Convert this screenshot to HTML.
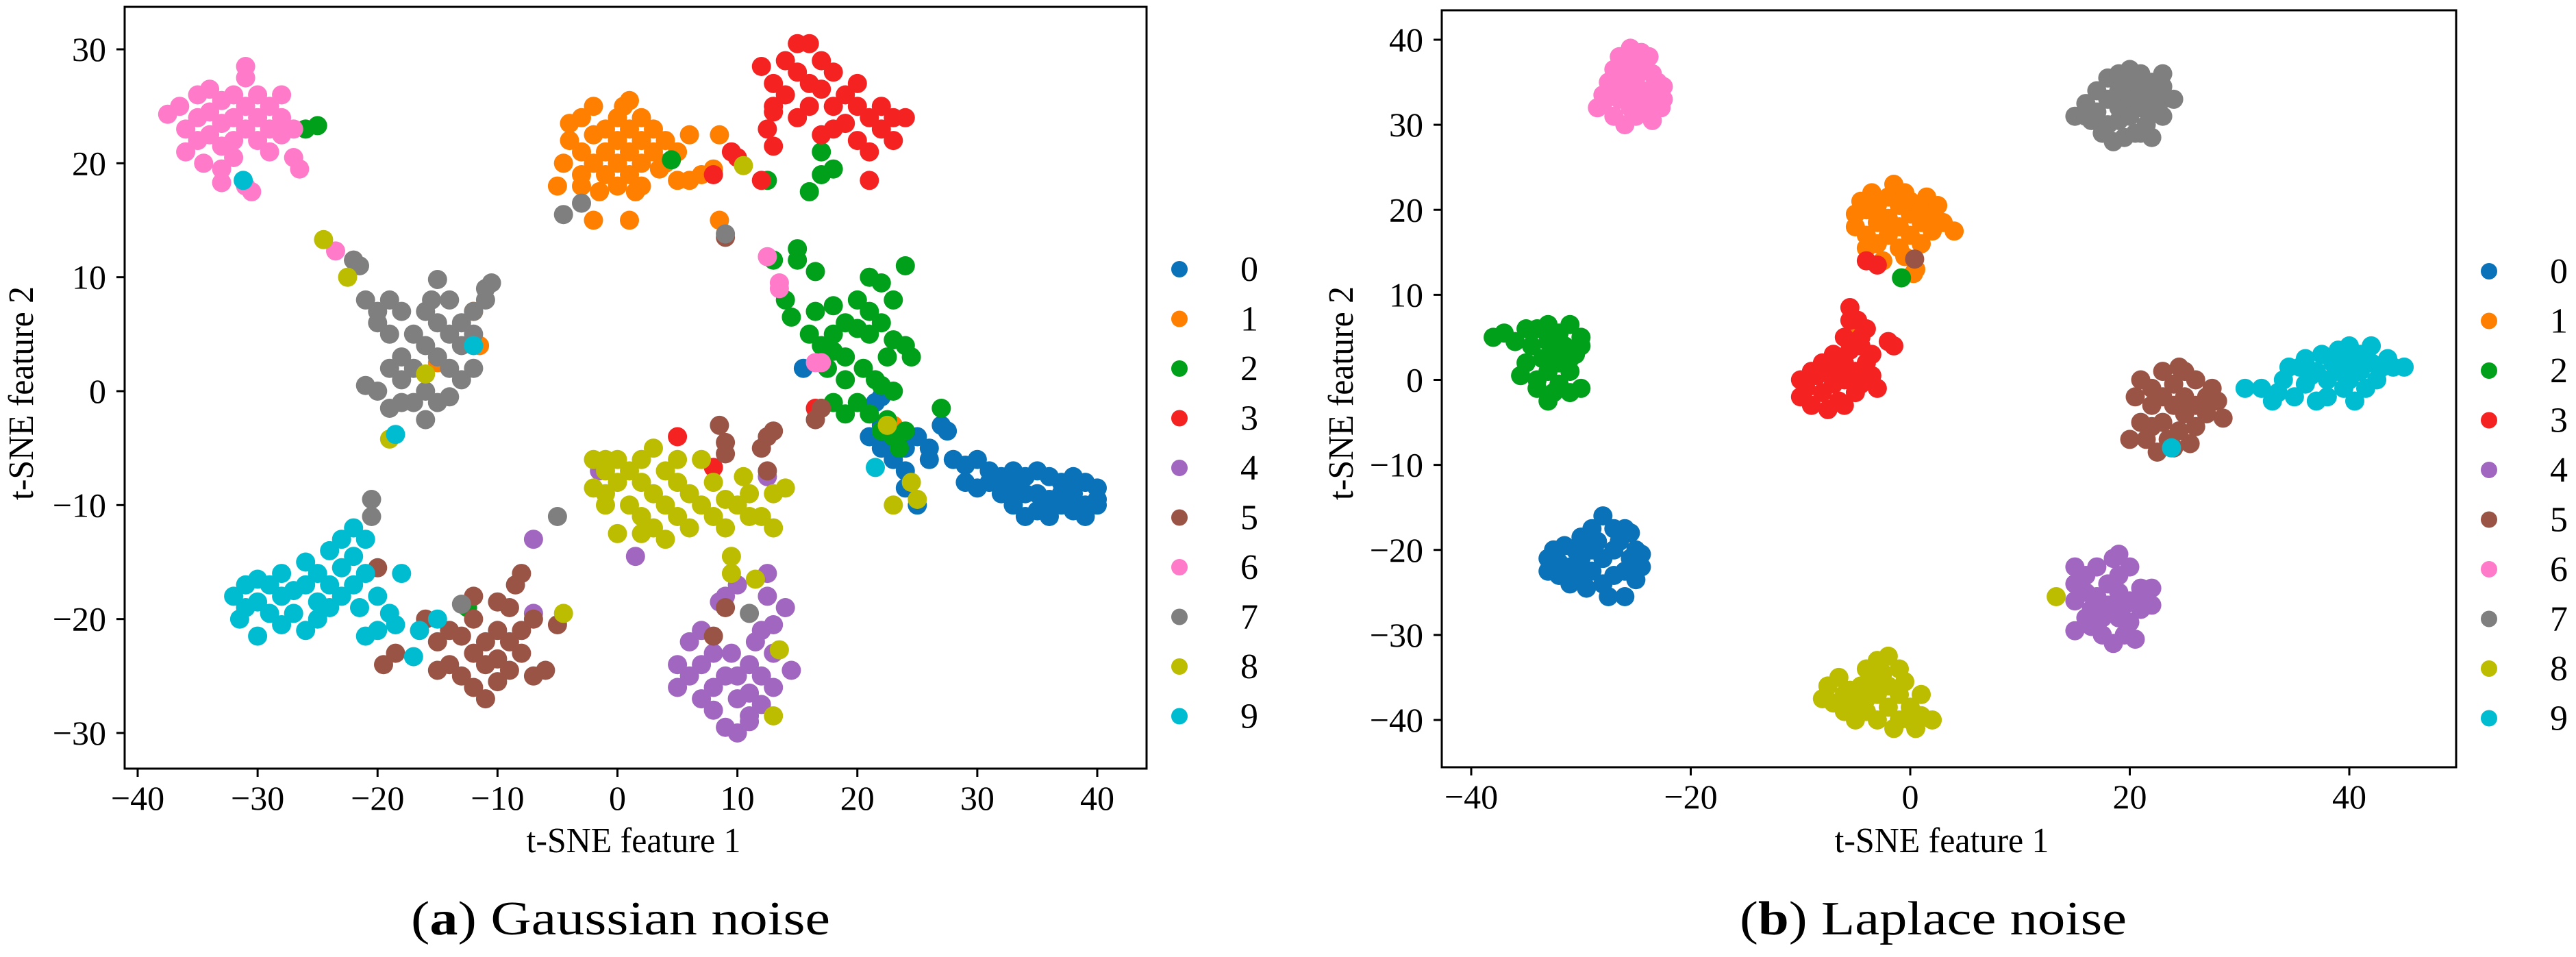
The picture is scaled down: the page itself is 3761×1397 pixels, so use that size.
<!DOCTYPE html>
<html><head><meta charset="utf-8"><style>
html,body{margin:0;padding:0;background:#fff;}
svg{display:block;font-family:"Liberation Serif",serif;}
</style></head><body>
<svg id="fig" width="3761" height="1397" viewBox="0 0 3761 1397" xmlns="http://www.w3.org/2000/svg"></svg>
<script>
const classLabels=["0","1","2","3","4","5","6","7","8","9"];
const classColors=["#0a72b8","#ff7f00","#00a01a","#f52222","#a066c0","#9a5446","#ff7ac8","#7f7f7f","#bcbc00","#00bcd0"];
const gaussXTicks=[-40,-30,-20,-10,0,10,20,30,40];
const gaussYTicks=[-30,-20,-10,0,10,20,30];
const lapXTicks=[-40,-20,0,20,40];
const lapYTicks=[-40,-30,-20,-10,0,10,20,30,40];

const g0=[[28,-6],[29,-6.5],[30,-6],[31,-7],[32,-7.5],[33,-7],[34,-7.5],[35,-7],[36,-7.5],[37,-8],[38,-7.5],[39,-8],[40,-8.5],[40,-9.5],[39,-10],[38,-10.5],[37,-10],[36,-9.5],[35,-9],[34,-9],[33,-8.5],[32,-9],[31,-8],[30,-8.5],[29,-8],[35,-10.5],[36,-11],[33,-10],[34,-11],[37,-9],[38,-9],[39,-11],[40,-10],[27,-3],[26,-5],[25,-4],[24,-5],[23,-6],[22,-3],[21,-4],[22,-5],[24,-7],[24,-8.5],[25,-10],[23,-3.5],[27.5,-3.5],[26,-6],[15.5,2],[21.5,-1],[22,-0.5]];
const g1=[[-5,18],[-4.5,20],[-4,22],[-4,23.5],[-3,21],[-3,19],[-2,25],[-2,22.5],[-2,20],[-1,23],[-1,21],[-1,19],[0,22],[0,20],[0,18],[0,24],[1,25.5],[1,23],[1,21],[1,19],[2,24],[2,22],[2,20],[2,18],[3,23],[3,21],[3.5,19.5],[4,22],[4,20],[-3,18],[-1.5,17.5],[1.5,17.5],[5,21],[5,18.5],[6,22.5],[6,18.5],[7,19],[8,19.5],[-3,24],[0.5,25],[8.5,15],[-2,15],[1,15],[8.5,22.5],[-12,7],[-11.5,4],[-15,2.5],[23,-3]];
const g2=[[13,11.5],[15,12.5],[15,11.5],[16.5,10.5],[14,8],[14.5,6.5],[16,5],[16.5,7],[17,4],[17.5,2],[18,7.5],[18,5],[19,6],[19,3],[20,8],[20,5.5],[20.5,2],[21,10],[21,7],[21,5],[21.5,1],[22,9.5],[22,6],[22.5,3],[23,8],[23,4.5],[24,11],[24,4],[24.5,3],[23,0],[20,-1],[19,-2],[18,-1],[21,-2],[22,0.5],[19,1],[18,3.5],[22.5,-2.5],[24,-3.5],[23.5,-5],[16,17.5],[17,19],[17,21],[18,19.5],[12.5,18.5],[4.5,20.3],[-25,23.3],[-26,23],[-12.5,-19],[17,-1.5],[27,-1.5],[22,-3.5],[23,-4]];
const g3=[[12,28.5],[13,27],[13,25],[14,29],[14,26],[15,30.5],[15,28],[15,24],[16,30.5],[16,27],[16,25],[17,29],[17,26.5],[17,22.5],[18,28],[18,25],[18,23],[19,26],[19,23.5],[20,25],[20,22],[21,24],[21,21],[22,23],[22,25],[23,24],[23,22],[24,24],[20,27],[13,21.5],[12.5,23],[21,18.5],[12,18.5],[10,20.5],[9.5,21],[8,19],[5,-4],[8,-6.7],[16.5,-1.5],[13,24.5]];
const g4=[[5,-24],[5,-26],[6,-22],[6,-25],[7,-21],[7,-27],[7,-24],[8,-23],[8,-26],[8,-28],[9,-25],[9,-29.5],[9.5,-23],[10,-27],[10,-25],[10,-30],[11,-24],[11,-26.5],[11,-28.5],[11.5,-22],[12,-25],[12,-27.5],[12,-21],[12.5,-16],[12.5,-18],[13,-23],[13,-26],[14,-19],[14.5,-24.5],[13,-20.5],[10,-17],[9,-18],[8.5,-18.5],[11,-29],[-7,-13],[-7,-19.5],[1.5,-14.5],[-1.5,-7],[12.5,-7.5]];
const g5=[[-16,-20],[-15,-22],[-14,-24],[-13,-25],[-13,-21.5],[-12,-23],[-12,-26],[-12,-20],[-11,-22],[-11,-24],[-11,-27],[-10,-21],[-10,-23.5],[-10,-25.5],[-9,-19],[-9,-22],[-9,-24.5],[-8.5,-17],[-8,-16],[-8,-21],[-8,-23],[-7,-20],[-7,-25],[-6,-24.5],[-5,-20.5],[-14,-21],[-15,-24.5],[-18.5,-23],[-19.5,-24],[-12,-18],[-10,-18.5],[-20,-15.5],[8.5,-3],[9,-4.5],[9,-5.5],[12,-5],[12.5,-4],[13,-3.5],[12.5,-7],[9,-19],[8,-21.5],[9,13.5],[16.5,-2.5],[17,-1.5],[-22,11.5]];
const g6=[[-37.5,24.3],[-36.5,25],[-36,23],[-36,21],[-35,26],[-35,24],[-35,22],[-34.5,20],[-34,26.5],[-34,24.5],[-34,22.5],[-33,25.5],[-33,23.5],[-33,21.5],[-33,19.5],[-32,26],[-32,24],[-32,22],[-32,20.5],[-31,28.5],[-31,27.5],[-31,25],[-31,23],[-31,18],[-30,26],[-30,24],[-30,22],[-30.5,17.5],[-29,25],[-29,23],[-29,21],[-28,24],[-28,22.5],[-27,20.5],[-27,23],[-26.5,19.5],[-28,26],[-33,18.3],[-23.5,12.3],[13.5,9.5],[13.5,9],[16.5,2.5],[17,2.5],[12.5,11.8]];
const g7=[[-22,11.5],[-21.5,11],[-21,8],[-20,7],[-20,6],[-19,5],[-19,8],[-18,7],[-18,3],[-18,1],[-17,5],[-17,2],[-17,-1],[-16,7],[-16,4],[-16,0],[-16,-2.5],[-15,6],[-15,3],[-15,-1],[-14,5],[-14,2],[-14,8],[-13,6],[-13,4],[-13,1],[-12,7],[-12,5],[-12,2],[-11,8],[-11,9],[-10.5,9.5],[-21,0.5],[-20,0],[-19,-1.5],[-18,-1],[-19,2],[-14,-0.5],[-15.5,8],[-15,9.8],[-20.5,-9.5],[-20.5,-11],[-5,-11],[-3,16.5],[-4.5,15.5],[-13,-18.7],[11,-19.5],[9,13.8]];
const g8=[[-2,-6],[-1,-7],[-1,-6],[0,-6],[-2,-8.5],[-1,-9],[0,-8],[1,-10],[1,-7],[2,-6],[2,-8],[2,-11],[3,-9],[3,-12],[3,-5],[4,-7],[4,-10],[4,-13],[5,-8],[5,-11],[5,-6],[6,-9],[6,-12],[7,-10],[7,-6],[8,-8],[8,-11],[9,-9.5],[9,-12],[10,-10],[10.5,-7.5],[11,-9],[11,-11],[12,-11],[13,-9],[13,-12],[14,-8.5],[0,-12.5],[2,-12.5],[-1,-10],[9.5,-14.5],[9.5,-16],[11.5,-16.5],[-24.5,13.3],[-22.5,10],[-19,-4.2],[-16,1.5],[-4.5,-19.5],[10.5,19.8],[22.5,-3],[23,-10],[24.5,-8],[25,-9.5],[13.5,-22.7],[13,-28.5]];
const g9=[[-32,-18],[-31.5,-20],[-31,-17],[-31,-19],[-30,-16.5],[-30,-18.5],[-30,-21.5],[-29,-17],[-29,-19.5],[-28,-16],[-28,-18],[-28,-20.5],[-27,-17.5],[-27,-19.5],[-26,-15],[-26,-17],[-26,-21],[-25,-16],[-25,-18.5],[-25,-20],[-24,-14],[-24,-17],[-24,-19],[-23,-13],[-23,-15.5],[-23,-18],[-22,-12],[-22,-14.5],[-22,-17],[-21,-13],[-21,-16],[-21.5,-19],[-20,-18],[-19,-19.5],[-20,-21],[-21,-21.5],[-18,-16],[-18.5,-20.5],[-16.5,-21],[-15,-20],[-17,-23.3],[-31.2,18.5],[-18.5,-3.8],[-12,4],[21.5,-6.7]];

const l0=[[-33,-21],[-33,-22.5],[-32.5,-20],[-32,-23],[-32,-21.5],[-31.5,-19.5],[-31,-24],[-31,-22],[-30.5,-20],[-30,-18.5],[-30,-23],[-30,-21],[-29.5,-24.5],[-29,-17.5],[-29,-20],[-29,-22.5],[-28.5,-19],[-28,-16],[-28,-21],[-28,-24],[-27.5,-25.5],[-27,-17.5],[-27,-20],[-27,-23],[-26.5,-19],[-26,-22.5],[-26,-25.5],[-25.5,-18],[-25.5,-21],[-25,-23.5],[-25,-20],[-24.5,-22],[-26,-17.5],[-24.5,-20.5]];
const l1=[[-5,18],[-5,19.5],[-4.5,21],[-4,17],[-4,15.5],[-4,20],[-3.5,22],[-3,18.5],[-3,16],[-3,20.5],[-2.5,14],[-2,21.5],[-2,19],[-2,17],[-1.5,23],[-1,20.5],[-1,18],[-1,15.5],[-0.5,22],[0,19.5],[0,17],[0,21],[0.5,13],[1,18.5],[1,20],[1,16],[1.5,21.5],[2,19],[2,17.5],[3,18.5],[4,17.5],[2.5,20.5],[-0.5,14.5],[0.3,12.5],[-5,5.5]];
const l2=[[-38,5],[-37,5.5],[-36,4.5],[-35,6],[-35,2],[-34.5,4],[-34,0],[-34,-1],[-33.5,2.5],[-33,6.5],[-33,4.5],[-33,1],[-33,-2.5],[-32.5,3],[-32,5.5],[-32,-0.5],[-32,2],[-31.5,4],[-31,6.5],[-31,1],[-31,-1.5],[-30.5,3],[-30,5],[-30,-1],[-30,4],[-31,2.5],[-34,6],[-32.5,-1.5],[-35.5,0.5],[-0.8,12]];
const l3=[[-10,0],[-10,-2],[-9.5,-1],[-9,1],[-9,-3],[-8.5,0.5],[-8,-1.5],[-8,2],[-7.5,-3.5],[-7,1],[-7,-0.5],[-7,3],[-6.5,-2.5],[-6,5],[-6,2],[-6,0],[-6,-3],[-5.5,7],[-5.5,3.5],[-5,1],[-5,-1.5],[-5.5,8.5],[-4.5,4],[-4.5,-0.5],[-4,6],[-4,2],[-3.5,3],[-3,-1],[-2,4.5],[-1.5,4],[-4.5,5],[-3.5,0.5],[-4.8,7],[-4,14],[-3,13.5]];
const l4=[[15,-22],[15,-24],[15,-26],[15,-29.5],[16,-23],[16,-25],[16.5,-27],[16.5,-29],[17,-22],[17,-25.5],[17.5,-30],[17.5,-28],[18,-24],[18,-26.5],[18.5,-31],[18.5,-21],[19,-20.5],[19,-23],[19,-25],[19,-28],[19.5,-30],[20,-22],[20,-26],[20,-28.5],[20.5,-30.5],[21,-24.5],[21,-27],[22,-24.5],[22,-26.5],[21.5,-25.5],[16,-28],[19.5,-26.5]];
const l5=[[20,-7],[20.5,-2],[21,-5],[21,0],[21.5,-7],[22,-3],[22,-1],[22.5,-8.5],[23,-5],[23,-2],[23,1],[23.5,-7],[24,-3],[24,-0.5],[24.5,1.5],[24.5,-6],[25,-4],[25,-2],[25.5,-7.5],[26,-3],[26,-5.5],[26,0],[27,-2],[27,-4],[27.5,-1],[28,-2.5],[28.5,-4.5],[22,-5.5],[24,-8],[25,1],[0.4,14.2]];
const l6=[[-28.5,32],[-28,33.5],[-27.5,35],[-27,36.5],[-27,31],[-26.5,33],[-26,34.5],[-26,30],[-26,37.5],[-25.5,32],[-25,35.5],[-25,33.5],[-25,31],[-24.5,38.5],[-24.5,37],[-24,34],[-24,32.5],[-23.5,36],[-23.5,30.5],[-23,35],[-23,33.5],[-22.5,34.5],[-22.5,33],[-28,32.5],[-26.5,38],[-25.5,39],[-24,31.5],[-27.5,33.8],[-26,36],[-25,37.5],[-22.7,32],[-23.8,38]];
const l7=[[15,31],[16,32.5],[16.5,30.5],[17,34],[17,31.5],[17.5,29],[18,35.5],[18,33],[18,30],[18.5,28],[19,36],[19,34],[19,32],[19,30.5],[19.5,28.5],[20,35],[20,33],[20,31],[20.5,29],[21,36],[21,34],[21,32],[21.5,30],[22,35],[22,33],[22,28.5],[23,36],[23,34.5],[23,33],[23,31],[22,31.5],[21,29],[20,36.5],[16,31],[24,33]];
const l8=[[-8,-37.5],[-7.5,-36],[-7,-38],[-6.5,-35],[-6,-37],[-6,-39],[-5.5,-36.5],[-5,-38],[-5,-40],[-4.5,-36],[-4,-34],[-4,-37.5],[-4,-39],[-3.5,-35.5],[-3,-33],[-3,-37],[-3,-40],[-2.5,-34.5],[-2,-32.5],[-2,-36],[-2,-38.5],[-1.5,-41],[-1,-34],[-1,-37],[-1,-40],[-0.5,-35.5],[0,-38.5],[0,-40],[1,-39.5],[1,-37],[2,-40],[0.5,-41],[13.3,-25.5]];
const l9=[[30.5,-1],[32,-1],[33,-2.5],[33.5,-1.5],[34,0],[35,-2],[35.5,1.5],[36,-0.5],[36,2.5],[37,1],[37,-2.5],[37.5,3],[38,0],[38,-2],[38.5,2],[39,3.5],[39,1],[39.5,-1],[40,4],[40,2],[40,0],[40.5,-2.5],[41,3],[41,1],[41.5,-1],[42,4],[42,2],[42.5,0],[43,1.5],[43.5,2.5],[44,1.5],[45,1.5],[34.5,1.5],[36.5,0.5],[23.8,-8]];

const gaussSeries=[g0,g1,g2,g3,g4,g5,g6,g7,g8,g9];
const lapSeries=[l0,l1,l2,l3,l4,l5,l6,l7,l8,l9];

const NS="http://www.w3.org/2000/svg";
const svg=document.getElementById('fig');
function mk(tag,attrs,parent){const e=document.createElementNS(NS,tag);for(const k in attrs)e.setAttribute(k,attrs[k]);(parent||svg).appendChild(e);return e;}

function panel(cfg){
  const g=mk('g',{});
  
  
  const sx=v=>cfg.x0+(v-cfg.xa)*(cfg.x1-cfg.x0)/(cfg.xb-cfg.xa);
  const sy=v=>cfg.y0+(v-cfg.ya)*(cfg.y1-cfg.y0)/(cfg.yb-cfg.ya);
  const pts=mk('g',{},g);
  
  
  cfg.series.forEach((arr,ci)=>{
    const sg=mk('g',{fill:classColors[ci]},pts);
    
    
    arr.forEach(p=>{
      const c=mk('circle',{cx:sx(p[0]).toFixed(1),cy:sy(p[1]).toFixed(1),r:14},sg);
      
      
    });
  });
  const fr=mk('rect',{x:cfg.L,y:cfg.T,width:cfg.R-cfg.L,height:cfg.B-cfg.T,fill:'none',stroke:'#000','stroke-width':3},g);
  
  
  const xt=mk('g',{'font-size':50,'text-anchor':'middle'},g);
  
  
  cfg.xticks.forEach(v=>{
    const X=sx(v);
    mk('line',{x1:X,x2:X,y1:cfg.B,y2:cfg.B+12,stroke:'#000','stroke-width':3},xt);
    const t=mk('text',{x:X,y:cfg.B+60},xt);
    t.textContent=(v<0?'\u2212':'')+Math.abs(v);
    
    
  });
  const yt=mk('g',{'font-size':50,'text-anchor':'end'},g);
  
  
  cfg.yticks.forEach(v=>{
    const Y=sy(v);
    mk('line',{x1:cfg.L-12,x2:cfg.L,y1:Y,y2:Y,stroke:'#000','stroke-width':3},yt);
    const t=mk('text',{x:cfg.L-27,y:Y+17},yt);
    t.textContent=(v<0?'\u2212':'')+Math.abs(v);
    
    
  });
  const xl=mk('text',{x:cfg.xlx,y:1244,'font-size':52,'text-anchor':'middle',textLength:313,lengthAdjust:'spacingAndGlyphs'},g);
  xl.textContent='t-SNE feature 1';
  
  
  const yl=mk('text',{x:0,y:0,'font-size':52,'text-anchor':'middle',textLength:312,lengthAdjust:'spacingAndGlyphs',transform:`translate(${cfg.ylx},${cfg.yly}) rotate(-90)`},g);
  yl.textContent='t-SNE feature 2';
  
  
  const lg=mk('g',{},g);
  
  
  classLabels.forEach((lab,i)=>{
    const Y=cfg.legY+i*72.5;
    const e=mk('g',{},lg);
    
    
    mk('circle',{cx:cfg.legX,cy:Y,r:12,fill:classColors[i]},e);
    const t=mk('text',{x:cfg.legTX,y:Y+17,'font-size':52,'text-anchor':'middle'},e);
    t.textContent=lab;
  });
  const cap=mk('text',{x:cfg.capX,y:1364,'font-size':70,textLength:cfg.capW,lengthAdjust:'spacingAndGlyphs'},g);
  
  
  const a=mk('tspan',{},cap);a.textContent='(';
  const b=mk('tspan',{'font-weight':'bold'},cap);b.textContent=cfg.letter;
  const c=mk('tspan',{},cap);c.textContent=') '+cfg.caption;
}

panel({name:'gaussian-noise-panel',series:gaussSeries,L:182,R:1674,T:10,B:1122,
  xa:-40,xb:40,x0:201,x1:1602,ya:30,yb:-30,y0:72,y1:1070,
  xticks:gaussXTicks,yticks:gaussYTicks,xlx:925,ylx:48,yly:574,
  legX:1722,legTX:1824,legY:393,capX:600,capW:612,letter:'a',caption:'Gaussian noise'});
panel({name:'laplace-noise-panel',series:lapSeries,L:2105,R:3586,T:15,B:1120,
  xa:-40,xb:40,x0:2148,x1:3430,ya:40,yb:-40,y0:58,y1:1051,
  xticks:lapXTicks,yticks:lapYTicks,xlx:2835,ylx:1975,yly:574,
  legX:3634,legTX:3736,legY:396,capX:2540,capW:565,letter:'b',caption:'Laplace noise'});
</script>
</body></html>
